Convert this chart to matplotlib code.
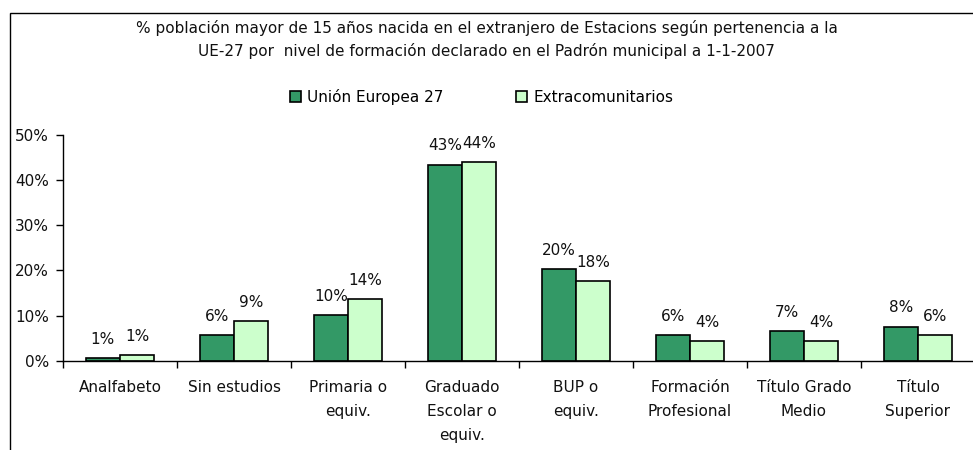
import matplotlib.pyplot as plt
import matplotlib.patches as mpatches
import numpy as np

# Data
CATEGORIES = ['Analfabeto', 'Sin estudios', 'Primaria o\nequiv.', 'Graduado\nEscolar o\nequiv.',
              'BUP o\nequiv.', 'Formación\nProfesional', 'Título Grado\nMedio', 'Título\nSuperior']
UE27 = [0.6, 5.7, 10.1, 43.4, 20.3, 5.7, 6.6, 7.6]
EXTRA = [1.3, 8.8, 13.7, 43.9, 17.7, 4.4, 4.4, 5.7]
SERIES_NAMES = ['Unión Europea 27', 'Extracomunitarios']
Y_TICKS = [0, 10, 20, 30, 40, 50]

TITLE = ('% población mayor de 15 años nacida en el extranjero de Estacions según pertenencia a la\n'
         'UE-27 por  nivel de formación declarado en el Padrón municipal a 1-1-2007')

COLORS = {'ue': '#339966', 'extra': '#CCFFCC', 'edge': 'black', 'text': '#111111'}
FONT = 11
BAR_W = 0.3

fig = plt.figure(figsize=(9.73, 4.5), dpi=100)
ax = fig.add_axes([63 / 973, 1 - 361 / 450, 912 / 973, (361 - 134.7) / 450])

# outer chart frame (only top/left edges visible in the crop)
frame = mpatches.Rectangle((9.5 / 973, -0.2), 1.2, 1.2 - 13 / 450, transform=fig.transFigure,
                           fill=False, edgecolor='black', linewidth=1.0, clip_on=False)
fig.patches.append(frame)

x = np.arange(len(CATEGORIES))
b1 = ax.bar(x - BAR_W / 2, UE27, BAR_W, color=COLORS['ue'], edgecolor=COLORS['edge'],
            linewidth=1.2, label=SERIES_NAMES[0])
b2 = ax.bar(x + BAR_W / 2, EXTRA, BAR_W, color=COLORS['extra'], edgecolor=COLORS['edge'],
            linewidth=1.2, label=SERIES_NAMES[1])

for bars in (b1, b2):
    for rect in bars:
        h = rect.get_height()
        ax.annotate(f'{h:.0f}%', (rect.get_x() + rect.get_width() / 2, h),
                    xytext=(0, 8), textcoords='offset points', ha='center', va='bottom',
                    fontsize=FONT, color=COLORS['text'])

ax.set_xlim(-0.5, len(CATEGORIES) - 0.5)
ax.set_ylim(0, 50)
ax.set_yticks(Y_TICKS)
ax.set_yticklabels([f'{v}%' for v in Y_TICKS], fontsize=FONT, color=COLORS['text'])
ax.tick_params(axis='y', direction='out', length=5, width=1, pad=5)

ax.set_xticks(x)
ax.set_xticklabels(CATEGORIES, fontsize=FONT, color=COLORS['text'], linespacing=1.75, va='top')
ax.tick_params(axis='x', which='major', length=0, pad=14)
ax.set_xticks(np.arange(-0.5, len(CATEGORIES), 1), minor=True)
ax.tick_params(axis='x', which='minor', direction='out', length=5, width=1)

for side in ('top', 'right'):
    ax.spines[side].set_visible(False)
for side in ('left', 'bottom'):
    ax.spines[side].set_linewidth(1)
    ax.spines[side].set_color('black')

fig.text(0.5, 1 - 39.5 / 450, TITLE, ha='center', va='center', fontsize=11,
         linespacing=1.6, color=COLORS['text'])

fig.legend(handles=[b1, b2], labels=SERIES_NAMES, loc='center', bbox_to_anchor=(0.495, 1 - 97 / 450),
           ncol=2, frameon=False, fontsize=FONT, handlelength=0.7, handleheight=0.7,
           handletextpad=0.4, columnspacing=4.8)

fig.savefig('out.png', dpi=100)
